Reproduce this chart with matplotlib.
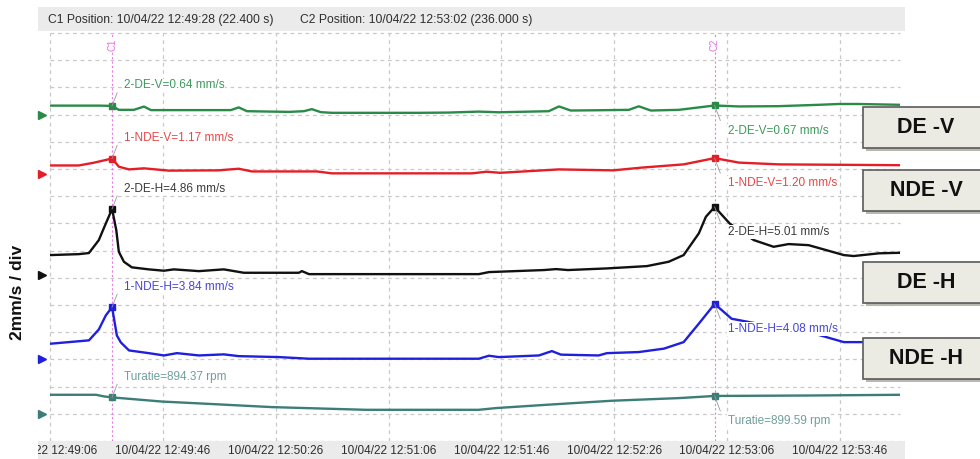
import numpy as np
import matplotlib.pyplot as plt
from matplotlib.patches import Rectangle

plt.rcParams['font.family'] = ['Liberation Sans', 'DejaVu Sans']

# cursors (seconds from start of record)
c1_time = 22.4
c2_time = 236.0
c1_header = "C1 Position: 10/04/22 12:49:28 (22.400 s)"
c2_header = "C2 Position: 10/04/22 12:53:02 (236.000 s)"

tick_times = [0.4, 40.4, 80.4, 120.4, 160.4, 200.4, 240.4, 280.4]
tick_labels = ["10/04/22 12:49:06", "10/04/22 12:49:46", "10/04/22 12:50:26",
               "10/04/22 12:51:06", "10/04/22 12:51:46", "10/04/22 12:52:26",
               "10/04/22 12:53:06", "10/04/22 12:53:46"]

# 2-DE-V, mm/s
de_v_t = [0.4, 17.7, 22.4, 24.8, 30.1, 33.7, 36.2, 53.2, 64.5, 67.3, 70.2, 85.1, 90.4,
          93.2, 96.4, 100.3, 131.1, 141.8, 152.4, 159.5, 177.2, 180.8, 185.0, 194.9,
          205.6, 209.1, 213.4, 223.3, 236.0, 244.6, 258.7, 272.9, 280.0, 287.1, 301.7]
de_v = [0.66, 0.66, 0.64, 0.35, 0.35, 0.59, 0.33, 0.33, 0.33, 0.53, 0.25, 0.20, 0.25,
        0.40, 0.18, 0.13, 0.13, 0.15, 0.22, 0.17, 0.25, 0.60, 0.30, 0.32,
        0.35, 0.61, 0.30, 0.35, 0.67, 0.60, 0.62, 0.72, 0.78, 0.78, 0.72]

# 1-NDE-V, mm/s
nde_v_t = [0.4, 10.6, 15.9, 22.4, 24.8, 28.4, 33.7, 42.5, 60.0, 67.3, 72.0, 95.0, 100.3,
           150.0, 155.1, 160.0, 180.8, 200.0, 210.0, 225.0, 236.0, 244.6, 258.7, 301.7]
nde_v = [0.66, 0.66, 0.86, 1.17, 0.57, 0.37, 0.45, 0.28, 0.30, 0.42, 0.22, 0.22, 0.08,
         0.08, 0.20, 0.12, 0.37, 0.30, 0.50, 0.74, 1.20, 0.87, 0.74, 0.68]

# 2-DE-H, mm/s
de_h_t = [0.4, 10.6, 14.2, 17.7, 19.5, 22.4, 23.9, 24.8, 26.6, 29.4, 35.4, 40.8, 44.3,
          53.2, 62.0, 69.1, 88.6, 89.7, 92.2, 152.4, 156.0, 175.5, 179.8, 184.0, 197.8,
          212.0, 219.7, 225.0, 230.4, 232.9, 236.0, 241.3, 246.0, 249.9, 256.9, 262.2,
          269.3, 281.8, 285.3, 294.2, 301.7]
de_h = [1.47, 1.54, 1.62, 2.57, 3.46, 4.86, 3.30, 1.71, 0.98, 0.57, 0.42, 0.32, 0.42,
        0.29, 0.42, 0.17, 0.17, 0.29, 0.07, 0.07, 0.22, 0.37, 0.44, 0.37, 0.49,
        0.66, 0.98, 1.47, 3.07, 4.29, 5.01, 3.80, 3.10, 2.57, 2.08, 2.28,
        2.20, 1.47, 1.40, 1.60, 1.64]

# 1-NDE-H, mm/s
nde_h_t = [0.4, 14.2, 17.7, 20.2, 22.4, 24.1, 25.5, 28.4, 35.4, 40.8, 45.4, 53.2, 62.0,
           67.3, 81.5, 92.2, 152.4, 156.0, 159.5, 173.7, 178.3, 181.5, 194.9, 197.8,
           209.1, 218.0, 225.0, 230.4, 236.0, 242.0, 260.0, 272.2, 281.8, 294.2, 301.7]
nde_h = [1.15, 1.40, 2.20, 3.24, 3.84, 1.76, 1.25, 0.66, 0.46, 0.29, 0.46, 0.29, 0.37,
         0.24, 0.17, 0.05, 0.05, 0.27, 0.17, 0.29, 0.61, 0.35, 0.29, 0.46,
         0.54, 0.79, 1.27, 2.63, 4.08, 2.99, 2.28, 1.84, 1.27, 1.27, 1.32]

# Turatie, rpm
rpm_t = [0.4, 16.7, 19.5, 22.4, 40.1, 55.7, 79.0, 112.3, 152.4, 158.5, 176.2, 199.6,
         223.3, 236.0, 270.4, 301.7]
rpm = [903.9, 903.9, 898.0, 894.37, 879.0, 871.0, 858.6, 848.7, 848.7, 855.0, 867.0,
       882.0, 891.7, 899.59, 901.3, 903.9]

names = ["2-DE-V", "1-NDE-V", "2-DE-H", "1-NDE-H", "Turatie"]
units = ["mm/s", "mm/s", "mm/s", "mm/s", "rpm"]
series_t = [de_v_t, nde_v_t, de_h_t, nde_h_t, rpm_t]
series_v = [de_v, nde_v, de_h, nde_h, rpm]
c1_values = [0.64, 1.17, 4.86, 3.84, 894.37]
c2_values = [0.67, 1.20, 5.01, 4.08, 899.59]
box_names = ["DE -V", "NDE -V", "DE -H", "NDE -H"]

# trace styling / vertical offsets (in divisions)
offsets = [12.0, 9.8, 6.1, 3.0, 1.0]
line_colors = ["#2a8a48", "#e41e26", "#111111", "#1f1fdc", "#3d7d78"]
text_colors = ["#3c9a5c", "#e44848", "#3a3a3a", "#4646d6", "#6f9f9c"]
MM_PER_DIV = 2.0
RPM_PER_DIV = 100.0
RPM_BASE = 834.0

W, H = 980, 459


def fx(px):
    return px / W


def fy(py):
    return 1 - py / H


def to_div(i, v):
    v = np.asarray(v, dtype=float)
    if units[i] == "rpm":
        return offsets[i] + (v - RPM_BASE) / RPM_PER_DIV
    return offsets[i] + v / MM_PER_DIV


fig = plt.figure(figsize=(W / 100, H / 100), dpi=100)
fig.patch.set_facecolor("white")

ax = fig.add_axes([fx(50), fy(441), fx(900) - fx(50), fy(33) - fy(441)])
ax.set_xlim(0.4, 301.7)
ax.set_ylim(0, 15)
ax.axis("off")

grid_kw = dict(color="#c9c9c9", lw=0.9, ls=(0, (3, 3)), zorder=1, clip_on=False)
for t in tick_times:
    ax.axvline(t, **grid_kw)
for k in range(16):
    ax.axhline(k, **grid_kw)

# cursors
for ct, name in [(c1_time, "C1"), (c2_time, "C2")]:
    ax.axvline(ct, color="#e77ee7", lw=0.8, ls=(0, (2, 2)), zorder=2)
    ax.text(ct, 14.55, name, rotation=90, color="#e070e0", fontsize=7,
            ha="center", va="center", zorder=3,
            bbox=dict(facecolor="white", edgecolor="none", pad=0.5))

for i in range(5):
    ax.plot(series_t[i], to_div(i, series_v[i]), color=line_colors[i], lw=1.7, zorder=4,
            solid_joinstyle="round")
    # offset marker on the left edge
    ax.plot([-2.4], [offsets[i]], marker=">", ms=5.5, color=line_colors[i],
            clip_on=False, zorder=5, ls="none")
    fmt = "{}={:.2f} {}"
    for ct, vals, dx, dy, lx, ly in [(c1_time, c1_values, 1.8, 0.48, 26.6, 0.75),
                                     (c2_time, c2_values, 2.0, -0.55, 240.6, -0.92)]:
        yd = float(to_div(i, vals[i]))
        ax.plot([ct], [yd], marker="s", ms=4.5, color=line_colors[i], zorder=6)
        ax.plot([ct, ct + dx], [yd, yd + dy], color="#9a9a9a", lw=0.6, zorder=6)
        ax.text(lx, yd + ly, fmt.format(names[i], vals[i], units[i]),
                color=text_colors[i], fontsize=8.5, ha="left", va="center", zorder=7,
                bbox=dict(facecolor="white", edgecolor="none", pad=0.6))

# header band
hdr = fig.add_axes([fx(38), fy(31), fx(905) - fx(38), fy(7) - fy(31)])
hdr.set_xlim(0, 1)
hdr.set_ylim(0, 1)
hdr.axis("off")
hdr.add_patch(Rectangle((0, 0), 1, 1, facecolor="#ebebeb", edgecolor="none"))
fig.text(fx(48), fy(19.5), c1_header, fontsize=8.7, color="#2e2e2e", va="center")
fig.text(fx(300), fy(19.5), c2_header, fontsize=8.7, color="#2e2e2e", va="center")

# time axis band
px_per_s = 850 / 301.3
band = fig.add_axes([fx(38), 0, fx(905) - fx(38), fy(441)])
band.set_xlim(0.4 - 12 / px_per_s, 0.4 + 855 / px_per_s)
band.set_ylim(0, 1)
band.axis("off")
band.add_patch(Rectangle((-100, 0), 1000, 1, facecolor="#ebebeb", edgecolor="none"))
for t, lab in zip(tick_times, tick_labels):
    band.text(t, 0.45, lab, fontsize=8.5, color="#2e2e2e", ha="center", va="center",
              clip_on=True)

fig.text(fx(17), fy(292), "2mm/s / div", rotation=90, fontsize=12.5, fontweight="bold",
         ha="center", va="center", color="#111111")

# channel boxes on the right
box_tops = [107, 170, 262, 338]
box_h = 41
for name, top in zip(box_names, box_tops):
    fig.patches.append(Rectangle((fx(866), fy(top + box_h + 3)), fx(120), box_h / H,
                                 transform=fig.transFigure, facecolor="#b8b8b0",
                                 edgecolor="none", zorder=8))
    fig.patches.append(Rectangle((fx(863), fy(top + box_h)), fx(120), box_h / H,
                                 transform=fig.transFigure, facecolor="#ecebe3",
                                 edgecolor="#5a5a5a", lw=1.2, zorder=9))
    fig.text(fx(926), fy(top + box_h / 2), name, fontsize=15.5, fontweight="bold",
             ha="center", va="center", color="#111111", zorder=10)

fig.savefig("out.png", dpi=100)
